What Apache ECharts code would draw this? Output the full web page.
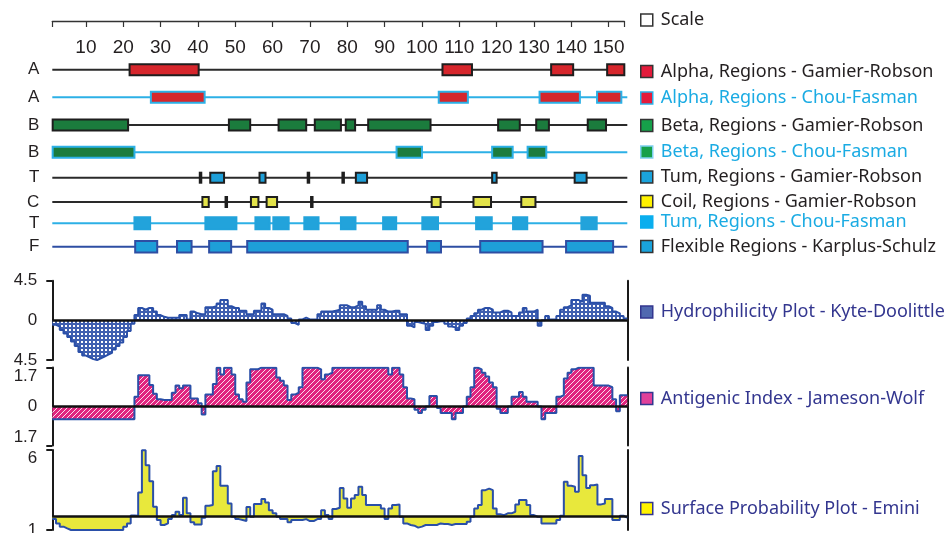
<!DOCTYPE html>
<html><head><meta charset="utf-8">
<script src="https://cdn.jsdelivr.net/npm/echarts@6/dist/echarts.min.js"></script>
<style>html,body{margin:0;padding:0;background:#fff}#c{width:952px;height:533px}</style>
</head><body><div id="c"></div>
<script>
// ---------------- DATA ----------------
const scaleTicks = [1,10,20,30,40,50,60,70,80,90,100,110,120,130,140,150,154.2];
const scaleLabels = [10,20,30,40,50,60,70,80,90,100,110,120,130,140,150];

const trackLetters = ['A','A','B','B','T','C','T','F'];
const trackNames = [
  'Alpha, Regions - Gamier-Robson',
  'Alpha, Regions - Chou-Fasman',
  'Beta, Regions - Gamier-Robson',
  'Beta, Regions - Chou-Fasman',
  'Tum, Regions - Gamier-Robson',
  'Coil, Regions - Gamier-Robson',
  'Tum, Regions - Chou-Fasman',
  'Flexible Regions - Karplus-Schulz'
];
const alphaGR = [[21.7,40.2],[105.5,113.4],[134.6,140.5],[149.6,154.2]];
const alphaCF = [[27.4,41.8],[104.5,112.3],[131.5,142.3],[146.9,153.4]];
const betaGR  = [[1.1,21.3],[48.3,54],[61.6,69],[71.3,78.3],[79.6,82.1],[85.6,102.3],[120.4,126.2],[130.6,134],[144.4,149.3]];
const betaCF  = [[1.1,23],[93.2,100],[118.8,124.3],[128.3,133.3]];
const turnGR  = [[40.5,40.9],[43.3,47],[56.5,58.1],[69.4,69.8],[78.7,79.1],[82.3,85.3],[118.8,120],[140.9,144.1]];
const coilGR  = [[41.2,42.9],[47.4,47.8],[54.2,56.2],[58.4,61.2],[70.3,70.7],[102.6,105],[113.8,118.5],[126.6,130.4]];
const turnCF  = [[23,27.2],[42,50.3],[55.4,59.2],[60.2,64.3],[68.5,72.3],[78.3,82.2],[89.6,93.1],[100.1,104.3],[114.5,118.7],[124.4,128.2],[142.7,146.8]];
const flexKS  = [[23.2,29.1],[34.4,38.3],[43,48.9],[53.2,96.2],[101.4,105.1],[115.6,132.3],[138.6,151.2]];
const trackEnds = [154.2, 155, 155, 155, 155, 155, 155, 155];

const plotNames = ['Hydrophilicity Plot - Kyte-Doolittle','Antigenic Index - Jameson-Wolf','Surface Probability Plot - Emini'];
const hydro = [
-0.5,-0.7,-1.1,-1.5,-1.9,-2.4,-2.9,-3.6,-4.0,-4.2,
-4.4,-4.5,-4.3,-4.1,-3.9,-3.7,-3.3,-2.9,-2.5,-1.9,
-1.2,-0.4,0.6,1.4,1.2,1.4,1.4,1.0,0.6,0.4,
0.3,0.3,0.3,0.3,0.6,0.6,0.1,1.0,0.8,0.7,
0.7,1.5,1.5,1.6,1.9,2.3,2.3,1.6,1.4,1.4,
1.1,1.1,0.7,0.7,1.1,1.1,1.9,1.4,1.2,0.7,
0.7,0.7,0.5,0.2,-0.3,-0.5,0.1,0.3,0.1,0.1,
0.1,0.7,1.0,1.0,1.0,1.1,1.2,1.7,1.7,1.5,
1.5,1.7,2.1,1.6,1.2,1.2,1.2,1.7,1.2,1.0,
1.0,1.1,1.1,0.7,0.7,-0.6,-0.8,-0.2,-0.3,-0.4,
-1.1,-0.6,-0.2,-0.1,-0.1,-0.4,-0.7,-0.8,-1.1,-0.6,
-0.3,0.2,0.5,0.8,1.2,1.4,1.4,1.2,0.9,0.9,
1.1,1.1,0.9,0.5,0.5,0.9,1.4,1.0,1.0,1.2,
-0.6,0,0.5,0.1,0.1,0.5,1.2,1.5,1.7,2.3,
2.3,2.1,2.9,2.8,2.0,2.0,2.0,2.0,1.6,1.4,
1.0,0.8,0.5,0.2];
const antigenic = [
-0.56,-0.56,-0.56,-0.56,-0.56,-0.56,-0.56,-0.56,-0.56,-0.56,
-0.56,-0.56,-0.56,-0.56,-0.56,-0.56,-0.56,-0.56,-0.56,-0.56,
-0.56,-0.56,0.42,1.36,1.36,1.36,0.94,0.56,0.32,0.28,
0.28,0.28,0.60,0.91,0.80,0.91,0.91,0.35,0.35,0.14,
-0.35,0.52,0.52,0.98,1.69,1.40,1.69,1.69,1.40,0.52,
0.32,0.21,1.05,1.62,1.62,1.69,1.69,1.69,1.69,1.69,
1.26,1.12,0.91,0.28,0.52,0.60,0.84,1.69,1.69,1.69,
1.69,1.62,1.19,1.40,1.47,1.69,1.69,1.69,1.69,1.69,
1.69,1.69,1.69,1.69,1.69,1.69,1.69,1.69,1.69,1.69,
1.40,1.69,1.69,1.40,0.84,0.35,0.32,-0.14,-0.28,-0.14,
0,0.46,0.46,-0.07,-0.28,-0.28,-0.28,-0.56,-0.28,-0.28,
0,0.42,0.84,1.69,1.62,1.47,1.31,1.05,0.84,-0.1,
-0.28,-0.28,0,0.42,0.42,0.63,0.42,0.21,0.21,0.21,
0,-0.56,-0.28,-0.28,-0.28,0.42,0.49,1.22,1.47,1.62,
1.69,1.69,1.69,1.69,1.69,0.91,0.91,0.91,0.91,0.84,
0.32,-0.21,0.49,0.49];
const surface = [
1.68,1.41,1.21,1.10,1.0,1.0,1.0,1.0,1.0,1.0,
1.0,1.0,1.0,1.0,1.0,1.0,1.0,1.0,1.0,1.21,
1.41,1.9,1.89,3.34,5.98,5.05,4.05,2.45,1.62,1.31,
1.41,1.68,1.93,2.14,1.93,3.01,2.04,1.48,1.35,1.35,
1.77,2.51,2.56,4.67,5.0,3.76,3.76,2.66,1.83,1.68,
1.62,1.56,2.43,1.83,2.62,2.62,2.93,2.72,2.24,2.04,
1.83,1.68,1.68,1.48,1.62,1.62,1.62,1.68,1.56,1.56,
1.68,1.68,2.24,1.93,1.68,2.31,2.39,3.63,2.97,2.39,
2.97,3.18,3.70,3.18,2.56,2.56,2.56,2.56,2.35,1.68,
2.35,2.56,2.60,1.83,1.41,1.31,1.27,1.15,1.21,1.31,
1.31,1.31,1.31,1.41,1.37,1.37,1.31,1.37,1.37,1.37,
1.37,1.52,1.83,2.35,2.56,3.49,3.59,3.49,2.35,1.98,
1.93,2.04,2.04,2.14,2.60,2.87,2.87,2.56,1.93,1.83,
1.83,1.41,1.41,1.41,1.41,1.62,1.89,4.01,3.76,3.70,
3.39,5.63,4.42,3.63,3.80,3.84,2.60,2.66,2.93,2.93,
1.62,1.62,1.89,1.77];
const surfaceBaseline = 1.83;
const hydroRange = [-4.5, 4.5];
const antiRange = [-1.7, 1.7];
const surfRange = [1, 6];

// ---------------- STYLE / LAYOUT ----------------
const NUM_FONT = '"Liberation Sans", Arial, sans-serif';
const TXT_FONT = '"Noto Sans", "Open Sans", sans-serif';
const BLACK = '#231f20', LBLUE = '#2cb0e6', NAVY = '#2e4ea3', LEGNAVY = '#33368f';
const X0 = 52.3, PX = 3.7338; // px per residue
const XMIN = 1, XMAX = 155;
const trackY = [69.7, 97.3, 125, 152.3, 177.7, 202, 223.3, 246.7];
const trackData = [alphaGR, alphaCF, betaGR, betaCF, turnGR, coilGR, turnCF, flexKS];
const trackStyle = [
  {fill:'#d6262c', stroke:'#1e1e1e', line:'#2a2a2a', h:11},
  {fill:'#d6262c', stroke:LBLUE, line:LBLUE, h:11},
  {fill:'#1b7c3d', stroke:'#1e1e1e', line:'#2a2a2a', h:11},
  {fill:'#1b7c3d', stroke:LBLUE, line:LBLUE, h:11},
  {fill:'#1e9fd8', stroke:'#1e1e1e', line:'#2a2a2a', h:10},
  {fill:'#e4e44a', stroke:'#1e1e1e', line:'#2a2a2a', h:10},
  {fill:'#22a3db', stroke:'#22a3db', line:LBLUE, h:12},
  {fill:'#1e9fd8', stroke:NAVY, line:NAVY, h:11.5}
];
const trackLegend = [
  {color:'#e31b3b', border:'#333', text:BLACK},
  {color:'#e31b3b', border:LBLUE, text:'#1aabe3'},
  {color:'#16a04a', border:'#333', text:BLACK},
  {color:'#16a04a', border:'#7fd0f0', text:'#1aabe3'},
  {color:'#1aa3dc', border:'#333', text:BLACK},
  {color:'#fff200', border:'#333', text:BLACK},
  {color:'#0aaeee', border:'#0aaeee', text:'#1aabe3'},
  {color:'#1aa3dc', border:'#333', text:BLACK}
];

function makeDots(){
  const c=document.createElement('canvas'); c.width=4; c.height=4;
  const g=c.getContext('2d'); g.fillStyle='#3f5fb0'; g.fillRect(0,0,4,4);
  g.fillStyle='#ffffff'; g.fillRect(1,1,2,2); return c;
}
function makeHatch(){
  const s=5, c=document.createElement('canvas'); c.width=s; c.height=s;
  const g=c.getContext('2d'); g.fillStyle='#e0247f'; g.fillRect(0,0,s,s);
  g.strokeStyle='rgba(255,255,255,0.85)'; g.lineWidth=1;
  g.beginPath(); g.moveTo(0,s); g.lineTo(s,0); g.moveTo(-1,1); g.lineTo(1,-1); g.moveTo(s-1,s+1); g.lineTo(s+1,s-1); g.stroke();
  return c;
}

const grids=[], xAxes=[], yAxes=[], series=[], legends=[];
const plotW = (XMAX-XMIN)*PX;
function grid(o){ o.outerBoundsMode='none'; o.containLabel=false; grids.push(o); }

// Scale axis grid
grid({left:X0, top:10, width:(154.2-1)*PX, height:11});
xAxes.push({gridIndex:0, type:'value', min:1, max:154.2, position:'bottom',
  axisLine:{show:true, onZero:false, lineStyle:{color:'#333', width:1.3}},
  axisTick:{show:true, length:6, customValues:scaleTicks, lineStyle:{color:'#333', width:1.2}},
  axisLabel:{show:true, customValues:scaleLabels, margin:17, fontSize:19, color:BLACK, fontFamily:NUM_FONT},
  splitLine:{show:false}});
yAxes.push({gridIndex:0, type:'value', show:false});
series.push({name:'Scale', type:'line', xAxisIndex:0, yAxisIndex:0, data:[]});

// Tracks
trackData.forEach((regions, i) => {
  const gi = grids.length;
  const st = trackStyle[i];
  grid({left:X0, top:trackY[i]-8, width:plotW, height:16});
  xAxes.push({gridIndex:gi, type:'value', min:XMIN, max:XMAX, show:false});
  yAxes.push({gridIndex:gi, type:'category', data:[trackLetters[i]],
    axisLine:{show:false}, axisTick:{show:false}, splitLine:{show:false},
    axisLabel:{margin:13, fontSize:17, color:BLACK, fontFamily:NUM_FONT}});
  series.push({type:'line', xAxisIndex:gi, yAxisIndex:gi, symbol:'none', silent:true, z:2,
    data:[[XMIN,0],[trackEnds[i],0]], lineStyle:{color:st.line, width:2}});
  series.push({name:trackNames[i], type:'custom', xAxisIndex:gi, yAxisIndex:gi, z:3, silent:true,
    data: regions.map(r => [r[0], r[1], 0]),
    encode:{x:[0,1], y:2},
    renderItem:function(params, api){
      const a = api.coord([api.value(0), 0]);
      const b = api.coord([api.value(1), 0]);
      return {type:'rect', shape:{x:a[0], y:a[1]-st.h/2, width:Math.max(b[0]-a[0],1), height:st.h},
        style:{fill:st.fill, stroke:st.stroke, lineWidth:2}};
    }});
});

// Profile plots
const plotDefs = [
  {vals:hydro, range:hydroRange, top:280.7, h:79.3, origin:0, fill:{image:makeDots(), repeat:'repeat'},
   labels:[hydroRange[0],0,hydroRange[1]], vmin:'middle', vmax:'middle', legendColor:'#5068b0'},
  {vals:antigenic, range:antiRange, top:367.5, h:78, origin:0, fill:{image:makeHatch(), repeat:'repeat'},
   labels:[antiRange[0],0,antiRange[1]], vmin:'bottom', vmax:'top', legendColor:'#e0409a'},
  {vals:surface, range:surfRange, top:450, h:80, origin:surfaceBaseline, fill:'#e8e83c',
   labels:[surfRange[0],surfRange[1]], vmin:'middle', vmax:'top', legendColor:'#fff200'}
];
plotDefs.forEach((p, k) => {
  const gi = grids.length;
  grid({left:X0, top:p.top, width:plotW, height:p.h});
  xAxes.push({gridIndex:gi, type:'value', min:XMIN, max:XMAX, show:false});
  const yi = yAxes.length;
  yAxes.push({gridIndex:gi, type:'value', min:p.range[0], max:p.range[1], position:'left',
    axisLine:{show:true, onZero:false, lineStyle:{color:'#1a1a1a', width:2}},
    axisTick:{show:true, length:6, customValues:[p.range[0], p.range[1]], lineStyle:{color:'#1a1a1a', width:2}},
    axisLabel:{show:true, customValues:p.labels, margin:15, fontSize:17, color:BLACK, fontFamily:NUM_FONT,
      verticalAlignMinLabel:p.vmin, verticalAlignMaxLabel:p.vmax,
      formatter:v => String(Math.abs(v))},
    splitLine:{show:false}});
  yAxes.push({gridIndex:gi, type:'value', min:p.range[0], max:p.range[1], position:'right',
    axisLine:{show:true, onZero:false, lineStyle:{color:'#1a1a1a', width:2}},
    axisTick:{show:false}, axisLabel:{show:false}, splitLine:{show:false}});
  const data = p.vals.map((v,i) => [i+1, v]);
  data.push([XMAX, p.vals[p.vals.length-1]]);
  series.push({name:plotNames[k], type:'line', xAxisIndex:gi, yAxisIndex:yi, step:'end', symbol:'none', silent:true,
    data:data, lineStyle:{color:'#2a4fa8', width:2}, itemStyle:{color:p.legendColor},
    areaStyle:{color:p.fill, opacity:1, origin:p.origin},
    markLine:{silent:true, symbol:'none', label:{show:false}, lineStyle:{color:'#111', width:2.5, type:'solid'},
      data:[{yAxis:p.origin}]}});
});

// Legends
function addLegend(name, yc, color, border, textColor){
  legends.push({left:640, top:yc-9, padding:0, orient:'vertical', selectedMode:false,
    itemWidth:12, itemHeight:12, itemGap:0,
    textStyle:{fontSize:18, fontFamily:TXT_FONT, color:textColor, padding:[0,0,0,3]},
    data:[{name:name, icon:'rect', itemStyle:{color:color, borderColor:border, borderWidth:1.5}}]});
}
addLegend('Scale', 20, '#ffffff', '#333', BLACK);
const legY = [71.5, 98, 125.5, 152, 177, 201.5, 222, 246.5];
trackNames.forEach((n,i) => addLegend(n, legY[i], trackLegend[i].color, trackLegend[i].border, trackLegend[i].text));
const plotLegY = [312, 398.5, 508.5];
plotNames.forEach((n,i) => addLegend(n, plotLegY[i], plotDefs[i].legendColor, LEGNAVY, LEGNAVY));

const chart = echarts.init(document.getElementById('c'), null, {renderer:'canvas'});
chart.setOption({animation:false, backgroundColor:'#fff', grid:grids, xAxis:xAxes, yAxis:yAxes, series:series, legend:legends});
</script></body></html>
